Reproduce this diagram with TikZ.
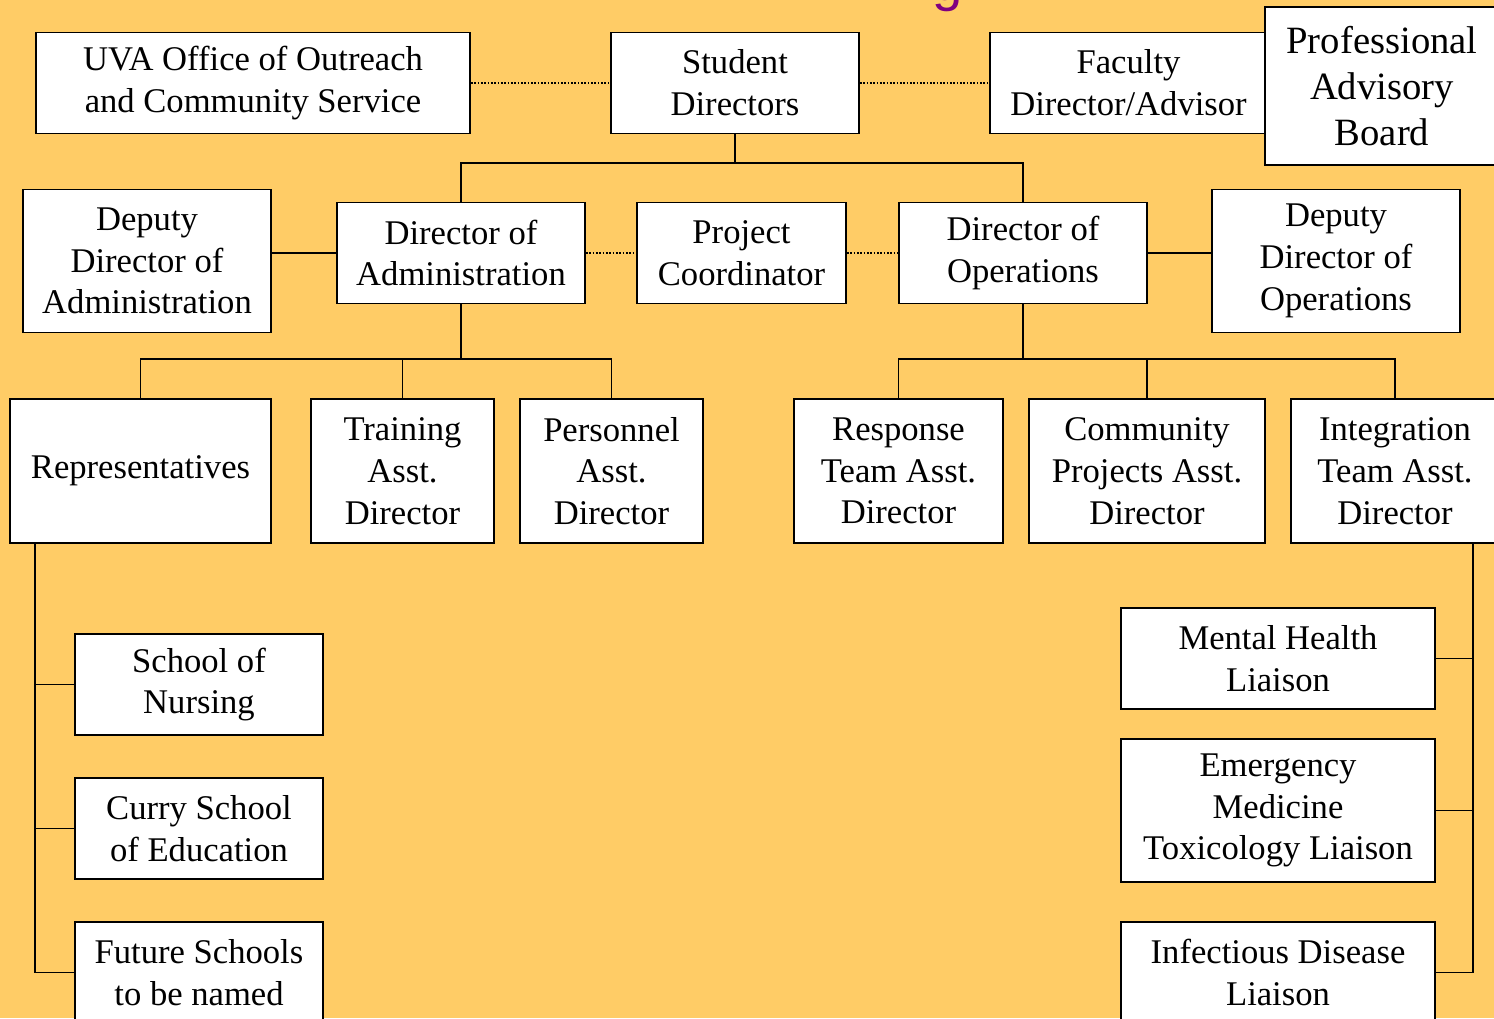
\documentclass[tikz,border=0pt]{standalone}
\definecolor{chartgold}{RGB}{255,204,102}
\definecolor{titlepurple}{RGB}{128,0,128}
\usepackage{fontspec}
\setmainfont{Liberation Serif}
\newfontfamily\titlefont{Liberation Sans}
\usepackage{tikz}

\begin{document}
\begin{tikzpicture}[x=0.02cm,y=-0.02cm]

%
% Styles
%
\tikzstyle{box}    = [draw,fill=white,line width=1.1pt,align=center,inner sep=0pt,
                      font=\fontsize{19.7}{23.8}\selectfont]
\tikzstyle{edge}   = [line width=1.1pt]
\tikzstyle{dotted link} = [line width=0.7pt,dash pattern=on 0.9pt off 1pt]

\useasboundingbox (0,0) rectangle (1494,1018);
\clip (0,0) rectangle (1494,1018);
\fill[chartgold] (0,0) rectangle (1494,1018);

% title, cut off by the top edge
\node[anchor=base,text=titlepurple,font=\titlefont\fontsize{31}{36}\selectfont] (title) at (948,0) {g};

% top row
\node[box,minimum width=8.68cm,minimum height=2.02cm] (uva)      at (253,83)  {UVA Office of Outreach\\and Community Service};
\node[box,minimum width=4.96cm,minimum height=2.02cm] (students) at (735,83)  {Student\\Directors};
\node[box,minimum width=5.54cm,minimum height=2.02cm] (faculty)  at (1128.5,83) {Faculty\\Director/Advisor};
\node[box,minimum width=4.68cm,minimum height=3.16cm,font=\fontsize{22}{26.4}\selectfont] (board) at (1382,86) {Professional\\Advisory\\Board};

% second row
\node[box,minimum width=4.96cm,minimum height=2.86cm] (depadmin) at (147,261)  {Deputy\\Director of\\Administration};
\node[box,minimum width=4.96cm,minimum height=2.02cm] (diradmin) at (461,253)  {Director of\\Administration};
\node[box,minimum width=4.18cm,minimum height=2.02cm] (project)  at (741.5,253) {Project\\Coordinator};
\node[box,minimum width=4.96cm,minimum height=2.02cm] (dirops)   at (1023,253) {Director of\\Operations};
\node[box,minimum width=4.96cm,minimum height=2.86cm] (depops)   at (1336,261) {Deputy\\Director of\\Operations};

% third row
\node[box,minimum width=5.22cm,minimum height=2.88cm] (reps)        at (140.5,471) {Representatives};
\node[box,minimum width=3.66cm,minimum height=2.88cm] (training)    at (402.5,471) {Training\\Asst.\\Director};
\node[box,minimum width=3.66cm,minimum height=2.88cm] (personnel)   at (611.5,471) {Personnel\\Asst.\\Director};
\node[box,minimum width=4.18cm,minimum height=2.88cm] (response)    at (898.5,471) {Response\\Team Asst.\\Director};
\node[box,minimum width=4.72cm,minimum height=2.88cm] (community)   at (1147,471)  {Community\\Projects Asst.\\Director};
\node[box,minimum width=4.16cm,minimum height=2.88cm] (integration) at (1395,471)  {Integration\\Team Asst.\\Director};

% schools
\node[box,minimum width=4.96cm,minimum height=2.02cm] (nursing) at (199,684.5) {School of\\Nursing};
\node[box,minimum width=4.96cm,minimum height=2.02cm] (curry)   at (199,828.5) {Curry School\\of Education};
\node[box,minimum width=4.96cm,minimum height=2.02cm] (future)  at (199,972.5) {Future Schools\\to be named};

% liaisons
\node[box,minimum width=6.28cm,minimum height=2.02cm] (mental)     at (1278,658.5) {Mental Health\\Liaison};
\node[box,minimum width=6.28cm,minimum height=2.86cm] (emergency)  at (1278,810.5) {Emergency\\Medicine\\Toxicology Liaison};
\node[box,minimum width=6.28cm,minimum height=2.02cm] (infectious) at (1278,972.5) {Infectious Disease\\Liaison};

% dotted links
\draw[dotted link] (uva) -- (students);
\draw[dotted link] (students) -- (faculty);
\draw[dotted link] (diradmin) -- (project);
\draw[dotted link] (project) -- (dirops);

% tree
\draw[edge] (students.south) -- ++(0,29) coordinate (topbus);
\draw[edge] (diradmin.north) |- (topbus) -| (dirops.north);
\draw[edge] (diradmin.west) -- (diradmin.west -| depadmin.east);
\draw[edge] (dirops.east) -- (dirops.east -| depops.west);

\draw[edge] (diradmin.south) -- ++(0,55) coordinate (adminbus);
\draw[edge] (reps.north) |- (adminbus) -| (personnel.north);
\draw[edge] (training.north) -- (training.north |- adminbus);

\draw[edge] (dirops.south) -- ++(0,55) coordinate (opsbus);
\draw[edge] (response.north) |- (opsbus) -| (integration.north);
\draw[edge] (community.north) -- (community.north |- opsbus);

% spines
\draw[edge] (reps.south west) ++(26,0) coordinate (lspine) |- (future.west);
\foreach \n in {nursing,curry}
  \draw[edge] (\n.west) -- (\n.west -| lspine);

\draw[edge] (integration.south) ++(78,0) coordinate (rspine) |- (infectious.east);
\foreach \n in {mental,emergency}
  \draw[edge] (\n.east) -- (\n.east -| rspine);

\end{tikzpicture}
\end{document}
